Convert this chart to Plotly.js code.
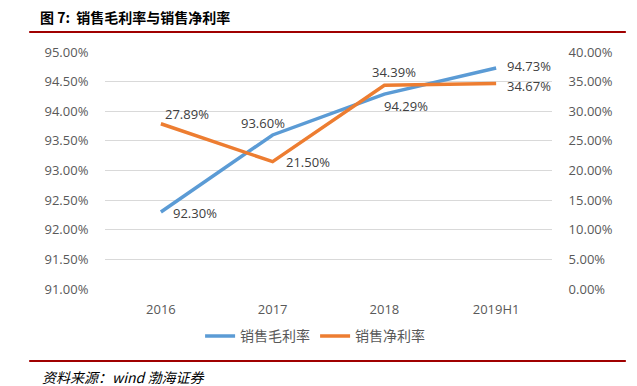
<!DOCTYPE html>
<html>
<head>
<meta charset="utf-8">
<script src="https://cdn.plot.ly/plotly-3.0.1.min.js"></script>
<style>html,body{margin:0;padding:0;background:#fff;}#chart{width:637px;height:386px;}</style>
</head>
<body>
<div id="chart"></div>
<script>
const categories = ['2016', '2017', '2018', '2019H1'];
const grossMargin = [92.30, 93.60, 94.29, 94.73];
const netMargin = [27.89, 21.50, 34.39, 34.67];
const grossName = '销售毛利率';
const netName = '销售净利率';

const grossOffsets = [[34, -1], [-10, 12], [22, -12], [33, 2]];
const netOffsets = [[26, 10], [35, 0], [10, 13], [33, -2]];

const font = 'Open Sans, Noto Sans CJK SC, sans-serif';
const labelFont = {family: font, size: 13, color: '#404040'};

const annotations = [];
grossMargin.forEach((v, i) => annotations.push({
  x: i, y: v, xref: 'x', yref: 'y', text: v.toFixed(2) + '%',
  showarrow: false, xshift: grossOffsets[i][0], yshift: grossOffsets[i][1], font: labelFont
}));
netMargin.forEach((v, i) => annotations.push({
  x: i, y: v, xref: 'x', yref: 'y2', text: v.toFixed(2) + '%',
  showarrow: false, xshift: netOffsets[i][0], yshift: netOffsets[i][1], font: labelFont
}));
annotations.push({
  xref: 'paper', yref: 'paper', x: -0.146, y: -0.37, xanchor: 'left', yanchor: 'middle',
  text: '资料来源：wind 渤海证券', showarrow: false,
  font: {family: 'Noto Sans CJK SC, sans-serif', size: 14, color: '#000', style: 'italic'}
});

const traces = [
  {x: categories, y: grossMargin, name: grossName, type: 'scatter', mode: 'lines',
   line: {color: '#5B9BD5', width: 3.5}, yaxis: 'y'},
  {x: categories, y: netMargin, name: netName, type: 'scatter', mode: 'lines',
   line: {color: '#ED7D31', width: 3.5}, yaxis: 'y2'}
];

const tickFont = {family: font, size: 13, color: '#595959'};
const layout = {
  width: 637, height: 386,
  margin: {l: 105, r: 85, t: 52, b: 97},
  paper_bgcolor: '#fff', plot_bgcolor: '#fff',
  title: {text: '<b>图 7:  销售毛利率与销售净利率</b>', x: 40/637, xanchor: 'left', xref: 'container',
          y: 1 - 18/386, yref: 'container', yanchor: 'middle',
          font: {family: 'Noto Sans CJK SC, sans-serif', size: 14, color: '#000'}},
  xaxis: {type: 'category', range: [-0.5, 3.5], autorange: false, showgrid: false, showline: false, zeroline: false,
          tickfont: tickFont, ticks: 'outside', ticklen: 8, tickcolor: 'rgba(0,0,0,0)'},
  yaxis: {range: [91, 95], dtick: 0.5, tickformat: '.2f', ticksuffix: '%',
          gridcolor: '#D9D9D9', gridwidth: 1, zeroline: false, showline: false,
          tickfont: tickFont, ticks: 'outside', ticklen: 13, tickcolor: 'rgba(0,0,0,0)'},
  yaxis2: {range: [0, 40], dtick: 5, tickformat: '.2f', ticksuffix: '%', overlaying: 'y', side: 'right',
           showgrid: false, zeroline: false, showline: false,
           tickfont: tickFont, ticks: 'outside', ticklen: 13, tickcolor: 'rgba(0,0,0,0)'},
  legend: {orientation: 'h', x: 0.47, xanchor: 'center', y: -0.2, yanchor: 'middle',
           font: {family: 'Noto Sans CJK SC, sans-serif', size: 14, color: '#595959'},
           itemwidth: 30, tracegroupgap: 0},
  shapes: [
    {type: 'line', xref: 'paper', yref: 'paper', x0: -0.1696, x1: 1.1652, y0: 1.0844, y1: 1.0844,
     line: {color: '#A00000', width: 2}},
    {type: 'line', xref: 'paper', yref: 'paper', x0: -0.1696, x1: 1.1652, y0: -0.3038, y1: -0.3038,
     line: {color: '#A00000', width: 2}}
  ],
  annotations: annotations,
  showlegend: true
};

Plotly.newPlot('chart', traces, layout, {displayModeBar: false, responsive: false});
</script>
</body>
</html>
